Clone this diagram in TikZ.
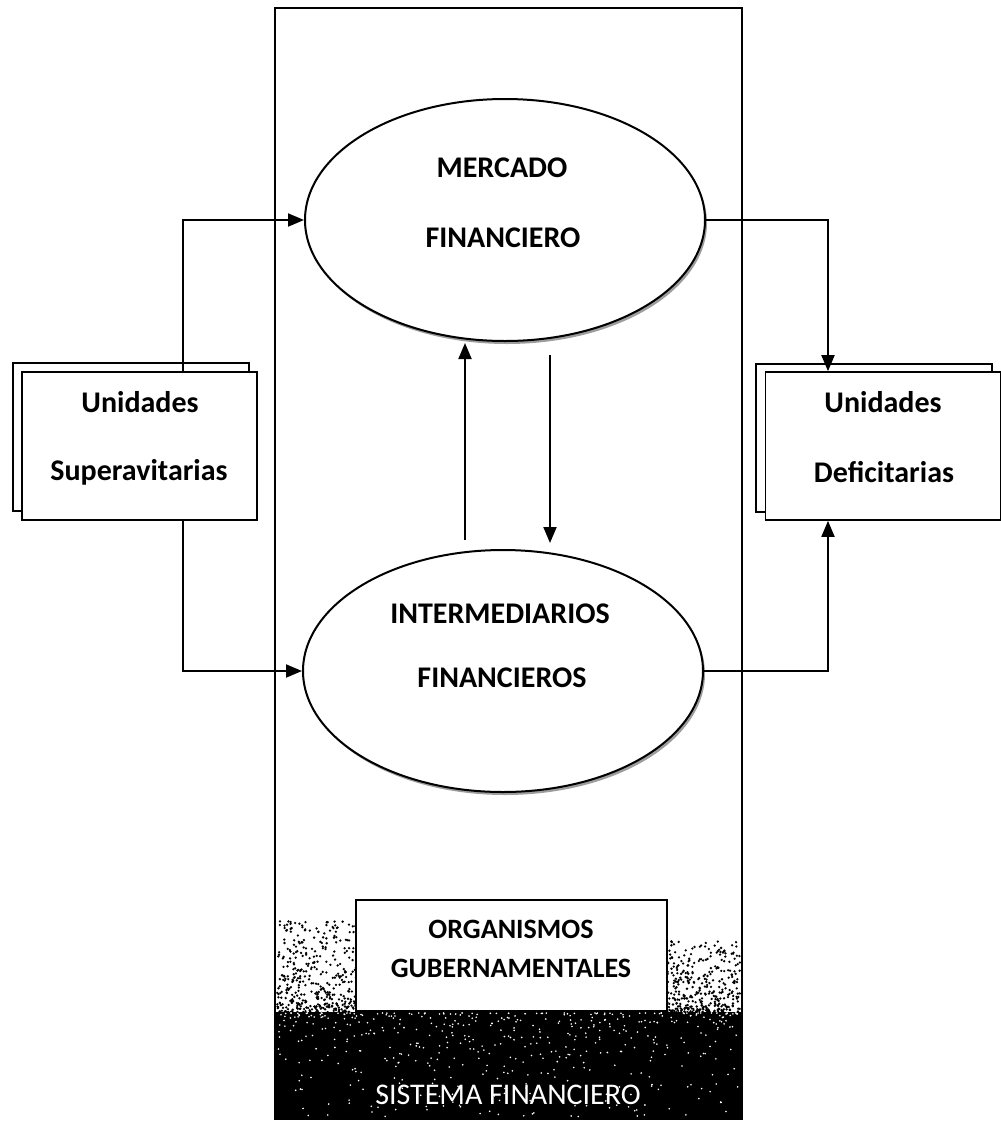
\documentclass[tikz,border=0pt]{standalone}
\usepackage{fontspec}
\setmainfont{Carlito}
\usetikzlibrary{arrows.meta,shapes.geometric,shadows}
\begin{document}
\begin{tikzpicture}[x=1pt,y=-1pt,
  line width=1.9pt,
  tip/.style={-{Triangle[length=16pt,width=13pt]}},
  lbl/.style={font=\fontsize{30}{36}\selectfont\bfseries, anchor=base, inner sep=0pt},
  lblsmall/.style={font=\fontsize{28}{34}\selectfont\bfseries, anchor=base, inner sep=0pt},
  ell/.style={draw, ellipse, fill=white, minimum width=400pt, minimum height=242pt, inner sep=0pt, line width=2pt,
     drop shadow={shadow xshift=2pt, shadow yshift=-3pt, fill=black!55, opacity=.7}},
  unitbox/.style={draw, fill=white, minimum width=235pt, minimum height=148pt, inner sep=0pt, line width=1.7pt},
  backbox/.style={draw, fill=white, minimum width=236pt, minimum height=148pt, inner sep=0pt, line width=2.2pt},
]
\useasboundingbox (0,0) rectangle (1001,1128);

% dark speckled band at the bottom of the financial system
\fill[black] (276,1012) rectangle (741,1119);
\pgfmathsetseed{42}
% left side: speckle starts higher
\foreach \i in {1,...,1300}{
  \pgfmathsetmacro{\xx}{277+200*rnd}
  \pgfmathsetmacro{\yy}{1016-95*(rnd^2.4)}
  \fill[black] (\xx,\yy) circle[radius=1.3pt];
}
% right side: speckle starts lower
\foreach \i in {1,...,1300}{
  \pgfmathsetmacro{\xx}{540+200*rnd}
  \pgfmathsetmacro{\yy}{1016-75*(rnd^2.4)}
  \fill[black] (\xx,\yy) circle[radius=1.3pt];
}
\foreach \i in {1,...,500}{
  \pgfmathsetmacro{\xx}{278+460*rnd}
  \pgfmathsetmacro{\yy}{1013+104*(rnd^2.2)}
  \fill[white] (\xx,\yy) circle[radius=0.9pt];
}

% system frame
\node[draw, minimum width=467pt, minimum height=1111pt, inner sep=0pt, line width=2.2pt] (sf) at (508.5,563.5) {};
\node[font=\fontsize{30}{36}\selectfont, text=white, anchor=base, inner sep=0pt] (sft) at (508,1104) {SISTEMA FINANCIERO};

% ellipses
\node[ell] (mf) at (505,220) {};
\node[ell] (if) at (503,671) {};
\node[lbl] (mf1) at (502,177) {MERCADO};
\node[lbl] (mf2) at (503,247) {FINANCIERO};
\node[lbl] (if1) at (500,623) {INTERMEDIARIOS};
\node[lbl] (if2) at (502,687) {FINANCIEROS};

% unit boxes
\node[backbox] (sub) at (131,437) {};
\node[unitbox] (su) at (139.5,446) {};
\node[lbl] (su1) at (140,412) {Unidades};
\node[lbl] (su2) at (139,480) {Superavitarias};

\node[backbox] (udb) at (874,438) {};
\node[unitbox] (ud) at (883,446) {};
\node[lbl] (ud1) at (883,412) {Unidades};
\node[lbl] (ud2) at (884,482) {Deficitarias};

% government box
\node[draw, fill=white, minimum width=311pt, minimum height=111pt, inner sep=0pt, line width=1.7pt] (og) at (511.5,955.5) {};
\node[lblsmall] (og1) at (511,938) {ORGANISMOS};
\node[lblsmall] (og2) at (511,977) {GUBERNAMENTALES};

% connectors
\coordinate (la) at (183,0);
\coordinate (ra) at (828,0);
\draw[tip] (su.north -| la) |- (mf.west);
\draw[tip] (su.south -| la) |- (if.west);
\draw[tip] (mf.east) -| (ud.north -| ra);
\draw[tip] (if.east) -| (ud.south -| ra);

\coordinate (u1) at (465,540);
\coordinate (u2) at (465,343);
\coordinate (d1) at (550,355);
\coordinate (d2) at (550,543);
\draw[tip] (u1) -- (u2);
\draw[tip] (d1) -- (d2);
\end{tikzpicture}
\end{document}
